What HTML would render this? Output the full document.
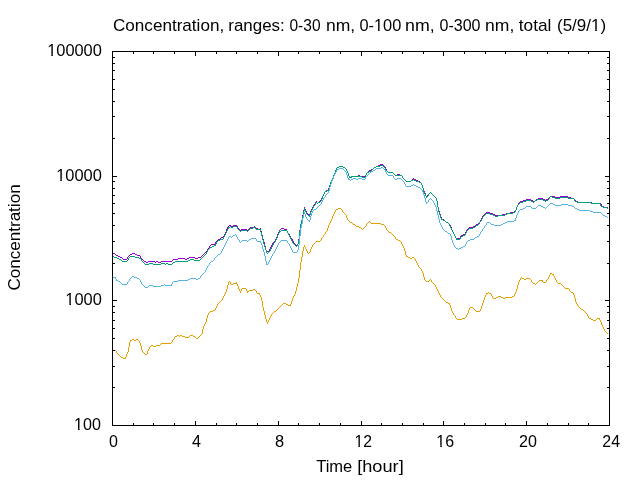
<!DOCTYPE html>
<html><head><meta charset="utf-8"><title>Concentration</title>
<style>
html,body{margin:0;padding:0;background:#fff;overflow:hidden}
svg{display:block;will-change:transform}
text{font-family:"Liberation Sans",sans-serif;font-size:16px;fill:#000}
</style></head><body>
<svg width="640" height="480" viewBox="0 0 640 480">
<rect width="640" height="480" fill="#fff"/>
<g shape-rendering="crispEdges">
<path d="M380 164h3v1h-3zM378 165h2v1h-2zM383 165h1v1h-1zM339 166h4v1h-4zM376 166h2v1h-2zM384 166h1v1h-1zM337 167h2v1h-2zM343 167h2v1h-2zM374 167h2v1h-2zM385 167h1v1h-1zM336 168h1v1h-1zM345 168h1v1h-1zM373 168h1v1h-1zM385 168h1v1h-1zM336 169h1v1h-1zM346 169h1v1h-1zM371 169h2v1h-2zM386 169h1v1h-1zM335 170h1v1h-1zM346 170h1v1h-1zM369 170h2v1h-2zM386 170h1v1h-1zM335 171h1v1h-1zM347 171h1v1h-1zM368 171h1v1h-1zM387 171h1v1h-1zM335 172h1v1h-1zM347 172h1v1h-1zM367 172h1v1h-1zM388 172h5v1h-5zM334 173h1v1h-1zM348 173h1v1h-1zM366 173h1v1h-1zM393 173h1v1h-1zM334 174h1v1h-1zM348 174h1v1h-1zM366 174h1v1h-1zM394 174h1v1h-1zM397 174h3v1h-3zM333 175h1v1h-1zM348 175h1v1h-1zM358 175h2v1h-2zM365 175h1v1h-1zM395 175h2v1h-2zM400 175h2v1h-2zM333 176h1v1h-1zM349 176h1v1h-1zM351 176h15v1h-15zM402 176h1v1h-1zM333 177h1v1h-1zM349 177h3v1h-3zM362 177h3v1h-3zM402 177h1v1h-1zM332 178h1v1h-1zM403 178h1v1h-1zM413 178h1v1h-1zM332 179h1v1h-1zM404 179h1v1h-1zM412 179h1v1h-1zM414 179h2v1h-2zM331 180h1v1h-1zM405 180h1v1h-1zM411 180h1v1h-1zM416 180h2v1h-2zM331 181h1v1h-1zM406 181h5v1h-5zM418 181h2v1h-2zM330 182h1v1h-1zM420 182h1v1h-1zM330 183h1v1h-1zM421 183h1v1h-1zM330 184h1v1h-1zM421 184h1v1h-1zM329 185h1v1h-1zM422 185h1v1h-1zM329 186h1v1h-1zM422 186h1v1h-1zM329 187h1v1h-1zM422 187h1v1h-1zM328 188h1v1h-1zM423 188h1v1h-1zM328 189h1v1h-1zM423 189h1v1h-1zM326 190h2v1h-2zM423 190h1v1h-1zM325 191h1v1h-1zM424 191h1v1h-1zM324 192h1v1h-1zM424 192h1v1h-1zM430 192h1v1h-1zM324 193h1v1h-1zM425 193h1v1h-1zM429 193h1v1h-1zM431 193h1v1h-1zM323 194h1v1h-1zM425 194h1v1h-1zM428 194h1v1h-1zM432 194h1v1h-1zM323 195h1v1h-1zM425 195h1v1h-1zM427 195h1v1h-1zM433 195h1v1h-1zM322 196h1v1h-1zM426 196h1v1h-1zM434 196h1v1h-1zM550 196h5v1h-5zM560 196h8v1h-8zM322 197h1v1h-1zM435 197h1v1h-1zM549 197h1v1h-1zM555 197h5v1h-5zM568 197h3v1h-3zM321 198h1v1h-1zM436 198h1v1h-1zM538 198h5v1h-5zM548 198h1v1h-1zM571 198h3v1h-3zM321 199h1v1h-1zM436 199h1v1h-1zM526 199h5v1h-5zM536 199h2v1h-2zM543 199h2v1h-2zM546 199h2v1h-2zM574 199h1v1h-1zM320 200h1v1h-1zM436 200h1v1h-1zM523 200h3v1h-3zM531 200h2v1h-2zM535 200h1v1h-1zM545 200h1v1h-1zM575 200h1v1h-1zM316 201h1v1h-1zM319 201h1v1h-1zM437 201h1v1h-1zM520 201h3v1h-3zM533 201h2v1h-2zM576 201h2v1h-2zM315 202h2v1h-2zM318 202h1v1h-1zM437 202h1v1h-1zM519 202h1v1h-1zM578 202h14v1h-14zM315 203h1v1h-1zM317 203h1v1h-1zM437 203h1v1h-1zM518 203h1v1h-1zM592 203h9v1h-9zM314 204h1v1h-1zM437 204h1v1h-1zM518 204h1v1h-1zM601 204h1v1h-1zM313 205h1v1h-1zM437 205h1v1h-1zM517 205h1v1h-1zM601 205h1v1h-1zM313 206h1v1h-1zM437 206h1v1h-1zM517 206h1v1h-1zM602 206h2v1h-2zM304 207h1v1h-1zM312 207h1v1h-1zM438 207h1v1h-1zM516 207h1v1h-1zM604 207h4v1h-4zM304 208h1v1h-1zM312 208h1v1h-1zM438 208h1v1h-1zM516 208h1v1h-1zM607 208h1v1h-1zM304 209h2v1h-2zM311 209h1v1h-1zM438 209h1v1h-1zM516 209h1v1h-1zM303 210h1v1h-1zM305 210h1v1h-1zM311 210h1v1h-1zM438 210h1v1h-1zM515 210h1v1h-1zM303 211h1v1h-1zM306 211h1v1h-1zM310 211h1v1h-1zM439 211h1v1h-1zM514 211h2v1h-2zM303 212h1v1h-1zM306 212h1v1h-1zM310 212h1v1h-1zM439 212h1v1h-1zM486 212h4v1h-4zM510 212h4v1h-4zM303 213h1v1h-1zM307 213h1v1h-1zM310 213h1v1h-1zM439 213h1v1h-1zM485 213h1v1h-1zM490 213h3v1h-3zM506 213h4v1h-4zM303 214h1v1h-1zM308 214h2v1h-2zM440 214h1v1h-1zM484 214h1v1h-1zM493 214h2v1h-2zM502 214h4v1h-4zM302 215h1v1h-1zM308 215h2v1h-2zM440 215h1v1h-1zM483 215h1v1h-1zM495 215h7v1h-7zM302 216h1v1h-1zM309 216h1v1h-1zM440 216h1v1h-1zM482 216h1v1h-1zM302 217h1v1h-1zM441 217h1v1h-1zM482 217h1v1h-1zM302 218h1v1h-1zM441 218h1v1h-1zM481 218h1v1h-1zM302 219h1v1h-1zM442 219h2v1h-2zM481 219h1v1h-1zM301 220h1v1h-1zM444 220h1v1h-1zM480 220h1v1h-1zM301 221h1v1h-1zM445 221h1v1h-1zM480 221h1v1h-1zM301 222h1v1h-1zM446 222h2v1h-2zM479 222h1v1h-1zM301 223h1v1h-1zM448 223h1v1h-1zM478 223h1v1h-1zM300 224h1v1h-1zM449 224h1v1h-1zM476 224h2v1h-2zM229 225h2v1h-2zM233 225h4v1h-4zM300 225h1v1h-1zM450 225h1v1h-1zM475 225h1v1h-1zM228 226h1v1h-1zM231 226h2v1h-2zM237 226h1v1h-1zM254 226h1v1h-1zM300 226h1v1h-1zM450 226h1v1h-1zM473 226h2v1h-2zM227 227h1v1h-1zM237 227h1v1h-1zM250 227h4v1h-4zM255 227h1v1h-1zM300 227h1v1h-1zM451 227h1v1h-1zM469 227h4v1h-4zM227 228h1v1h-1zM238 228h1v1h-1zM249 228h1v1h-1zM256 228h2v1h-2zM260 228h1v1h-1zM281 228h3v1h-3zM300 228h1v1h-1zM451 228h1v1h-1zM468 228h1v1h-1zM226 229h1v1h-1zM239 229h1v1h-1zM241 229h6v1h-6zM248 229h1v1h-1zM258 229h3v1h-3zM280 229h1v1h-1zM284 229h3v1h-3zM300 229h1v1h-1zM451 229h1v1h-1zM467 229h1v1h-1zM226 230h1v1h-1zM240 230h1v1h-1zM247 230h1v1h-1zM260 230h1v1h-1zM279 230h1v1h-1zM286 230h1v1h-1zM299 230h1v1h-1zM452 230h1v1h-1zM466 230h1v1h-1zM226 231h1v1h-1zM261 231h1v1h-1zM279 231h1v1h-1zM287 231h1v1h-1zM299 231h1v1h-1zM452 231h1v1h-1zM466 231h1v1h-1zM225 232h1v1h-1zM261 232h1v1h-1zM278 232h1v1h-1zM287 232h1v1h-1zM299 232h1v1h-1zM453 232h1v1h-1zM465 232h1v1h-1zM225 233h1v1h-1zM261 233h1v1h-1zM278 233h1v1h-1zM288 233h1v1h-1zM299 233h1v1h-1zM453 233h1v1h-1zM465 233h1v1h-1zM224 234h1v1h-1zM261 234h1v1h-1zM277 234h1v1h-1zM289 234h1v1h-1zM299 234h1v1h-1zM454 234h1v1h-1zM463 234h2v1h-2zM224 235h1v1h-1zM262 235h1v1h-1zM277 235h1v1h-1zM289 235h1v1h-1zM299 235h1v1h-1zM454 235h1v1h-1zM461 235h2v1h-2zM223 236h1v1h-1zM262 236h1v1h-1zM277 236h1v1h-1zM290 236h1v1h-1zM299 236h1v1h-1zM455 236h1v1h-1zM460 236h1v1h-1zM221 237h2v1h-2zM262 237h1v1h-1zM276 237h1v1h-1zM290 237h1v1h-1zM299 237h1v1h-1zM455 237h1v1h-1zM460 237h1v1h-1zM220 238h1v1h-1zM262 238h1v1h-1zM276 238h1v1h-1zM291 238h1v1h-1zM299 238h1v1h-1zM456 238h4v1h-4zM218 239h2v1h-2zM263 239h1v1h-1zM275 239h1v1h-1zM292 239h1v1h-1zM298 239h1v1h-1zM217 240h1v1h-1zM263 240h1v1h-1zM275 240h1v1h-1zM292 240h1v1h-1zM298 240h1v1h-1zM216 241h1v1h-1zM263 241h1v1h-1zM274 241h1v1h-1zM293 241h1v1h-1zM298 241h1v1h-1zM215 242h1v1h-1zM264 242h1v1h-1zM273 242h1v1h-1zM293 242h1v1h-1zM298 242h1v1h-1zM215 243h1v1h-1zM264 243h1v1h-1zM272 243h1v1h-1zM294 243h1v1h-1zM298 243h1v1h-1zM211 244h4v1h-4zM264 244h1v1h-1zM272 244h1v1h-1zM295 244h1v1h-1zM297 244h1v1h-1zM210 245h1v1h-1zM264 245h1v1h-1zM271 245h1v1h-1zM296 245h1v1h-1zM209 246h1v1h-1zM265 246h1v1h-1zM271 246h1v1h-1zM209 247h1v1h-1zM265 247h1v1h-1zM270 247h1v1h-1zM208 248h1v1h-1zM265 248h1v1h-1zM270 248h1v1h-1zM207 249h1v1h-1zM265 249h1v1h-1zM269 249h1v1h-1zM207 250h1v1h-1zM266 250h1v1h-1zM269 250h1v1h-1zM206 251h1v1h-1zM266 251h3v1h-3zM205 252h1v1h-1zM112 253h3v1h-3zM132 253h3v1h-3zM204 253h1v1h-1zM115 254h1v1h-1zM130 254h2v1h-2zM135 254h2v1h-2zM203 254h1v1h-1zM116 255h2v1h-2zM129 255h1v1h-1zM137 255h3v1h-3zM202 255h1v1h-1zM118 256h2v1h-2zM128 256h1v1h-1zM140 256h1v1h-1zM201 256h1v1h-1zM120 257h2v1h-2zM127 257h1v1h-1zM140 257h1v1h-1zM189 257h6v1h-6zM198 257h3v1h-3zM122 258h1v1h-1zM127 258h1v1h-1zM141 258h1v1h-1zM178 258h7v1h-7zM187 258h2v1h-2zM195 258h3v1h-3zM123 259h4v1h-4zM142 259h1v1h-1zM173 259h5v1h-5zM185 259h2v1h-2zM143 260h1v1h-1zM172 260h1v1h-1zM144 261h2v1h-2zM148 261h7v1h-7zM156 261h2v1h-2zM161 261h11v1h-11zM146 262h2v1h-2zM155 262h1v1h-1zM158 262h3v1h-3z" fill="#9400d3"/>
<path d="M380 165h3v1h-3zM339 166h4v1h-4zM376 166h4v1h-4zM383 166h1v1h-1zM337 167h2v1h-2zM343 167h2v1h-2zM374 167h2v1h-2zM384 167h1v1h-1zM336 168h1v1h-1zM345 168h1v1h-1zM373 168h1v1h-1zM385 168h1v1h-1zM336 169h1v1h-1zM346 169h1v1h-1zM372 169h1v1h-1zM385 169h1v1h-1zM335 170h1v1h-1zM346 170h1v1h-1zM371 170h1v1h-1zM386 170h1v1h-1zM335 171h1v1h-1zM347 171h1v1h-1zM369 171h2v1h-2zM387 171h1v1h-1zM335 172h1v1h-1zM347 172h1v1h-1zM367 172h2v1h-2zM388 172h5v1h-5zM334 173h1v1h-1zM348 173h1v1h-1zM366 173h1v1h-1zM393 173h1v1h-1zM334 174h1v1h-1zM348 174h1v1h-1zM366 174h1v1h-1zM394 174h1v1h-1zM333 175h1v1h-1zM348 175h1v1h-1zM365 175h1v1h-1zM395 175h7v1h-7zM333 176h1v1h-1zM349 176h1v1h-1zM351 176h11v1h-11zM365 176h1v1h-1zM402 176h1v1h-1zM333 177h1v1h-1zM349 177h3v1h-3zM362 177h3v1h-3zM402 177h1v1h-1zM332 178h1v1h-1zM403 178h1v1h-1zM332 179h1v1h-1zM404 179h1v1h-1zM413 179h1v1h-1zM331 180h1v1h-1zM405 180h1v1h-1zM411 180h2v1h-2zM414 180h2v1h-2zM331 181h1v1h-1zM406 181h5v1h-5zM416 181h3v1h-3zM330 182h1v1h-1zM419 182h2v1h-2zM330 183h1v1h-1zM421 183h1v1h-1zM330 184h1v1h-1zM421 184h1v1h-1zM329 185h1v1h-1zM422 185h1v1h-1zM329 186h1v1h-1zM422 186h1v1h-1zM329 187h1v1h-1zM422 187h1v1h-1zM329 188h1v1h-1zM423 188h1v1h-1zM328 189h1v1h-1zM423 189h1v1h-1zM327 190h2v1h-2zM423 190h1v1h-1zM325 191h2v1h-2zM423 191h1v1h-1zM324 192h1v1h-1zM424 192h1v1h-1zM430 192h1v1h-1zM324 193h1v1h-1zM424 193h1v1h-1zM429 193h1v1h-1zM431 193h1v1h-1zM323 194h1v1h-1zM425 194h1v1h-1zM428 194h1v1h-1zM432 194h1v1h-1zM323 195h1v1h-1zM425 195h1v1h-1zM428 195h1v1h-1zM433 195h1v1h-1zM322 196h1v1h-1zM426 196h2v1h-2zM434 196h1v1h-1zM550 196h2v1h-2zM322 197h1v1h-1zM426 197h1v1h-1zM435 197h1v1h-1zM549 197h1v1h-1zM552 197h3v1h-3zM560 197h8v1h-8zM322 198h1v1h-1zM436 198h1v1h-1zM549 198h1v1h-1zM555 198h5v1h-5zM568 198h6v1h-6zM321 199h1v1h-1zM436 199h1v1h-1zM537 199h6v1h-6zM548 199h1v1h-1zM574 199h1v1h-1zM321 200h1v1h-1zM436 200h1v1h-1zM526 200h5v1h-5zM535 200h2v1h-2zM543 200h2v1h-2zM546 200h2v1h-2zM574 200h1v1h-1zM320 201h1v1h-1zM437 201h1v1h-1zM523 201h3v1h-3zM531 201h2v1h-2zM534 201h1v1h-1zM545 201h1v1h-1zM575 201h2v1h-2zM316 202h1v1h-1zM318 202h2v1h-2zM437 202h1v1h-1zM520 202h3v1h-3zM533 202h1v1h-1zM577 202h14v1h-14zM315 203h1v1h-1zM317 203h1v1h-1zM437 203h1v1h-1zM519 203h1v1h-1zM591 203h9v1h-9zM315 204h1v1h-1zM437 204h1v1h-1zM518 204h1v1h-1zM600 204h1v1h-1zM314 205h1v1h-1zM437 205h1v1h-1zM517 205h1v1h-1zM600 205h1v1h-1zM313 206h1v1h-1zM437 206h1v1h-1zM517 206h1v1h-1zM601 206h2v1h-2zM313 207h1v1h-1zM438 207h1v1h-1zM516 207h1v1h-1zM603 207h4v1h-4zM304 208h1v1h-1zM312 208h1v1h-1zM438 208h1v1h-1zM516 208h1v1h-1zM607 208h1v1h-1zM304 209h1v1h-1zM312 209h1v1h-1zM438 209h1v1h-1zM516 209h1v1h-1zM304 210h2v1h-2zM311 210h1v1h-1zM438 210h1v1h-1zM515 210h1v1h-1zM303 211h1v1h-1zM305 211h1v1h-1zM311 211h1v1h-1zM438 211h1v1h-1zM515 211h1v1h-1zM303 212h1v1h-1zM306 212h1v1h-1zM310 212h1v1h-1zM439 212h1v1h-1zM513 212h2v1h-2zM303 213h1v1h-1zM306 213h1v1h-1zM310 213h1v1h-1zM439 213h1v1h-1zM486 213h4v1h-4zM507 213h6v1h-6zM303 214h1v1h-1zM307 214h1v1h-1zM310 214h1v1h-1zM439 214h1v1h-1zM485 214h1v1h-1zM490 214h3v1h-3zM505 214h2v1h-2zM303 215h1v1h-1zM308 215h2v1h-2zM440 215h1v1h-1zM484 215h1v1h-1zM493 215h2v1h-2zM498 215h7v1h-7zM302 216h1v1h-1zM309 216h1v1h-1zM440 216h1v1h-1zM483 216h1v1h-1zM495 216h3v1h-3zM302 217h1v1h-1zM440 217h1v1h-1zM482 217h1v1h-1zM302 218h1v1h-1zM441 218h1v1h-1zM482 218h1v1h-1zM302 219h1v1h-1zM441 219h2v1h-2zM481 219h1v1h-1zM301 220h1v1h-1zM443 220h2v1h-2zM481 220h1v1h-1zM301 221h1v1h-1zM445 221h1v1h-1zM480 221h1v1h-1zM301 222h1v1h-1zM446 222h2v1h-2zM479 222h1v1h-1zM301 223h1v1h-1zM448 223h1v1h-1zM479 223h1v1h-1zM300 224h1v1h-1zM449 224h1v1h-1zM478 224h1v1h-1zM300 225h1v1h-1zM449 225h1v1h-1zM476 225h2v1h-2zM230 226h1v1h-1zM233 226h4v1h-4zM300 226h1v1h-1zM450 226h1v1h-1zM475 226h1v1h-1zM228 227h2v1h-2zM231 227h2v1h-2zM237 227h1v1h-1zM253 227h3v1h-3zM300 227h1v1h-1zM450 227h1v1h-1zM473 227h2v1h-2zM228 228h1v1h-1zM237 228h1v1h-1zM250 228h3v1h-3zM255 228h1v1h-1zM300 228h1v1h-1zM451 228h1v1h-1zM469 228h4v1h-4zM227 229h1v1h-1zM238 229h1v1h-1zM249 229h1v1h-1zM256 229h5v1h-5zM300 229h1v1h-1zM451 229h1v1h-1zM468 229h1v1h-1zM227 230h1v1h-1zM239 230h1v1h-1zM241 230h6v1h-6zM248 230h1v1h-1zM260 230h1v1h-1zM281 230h6v1h-6zM300 230h1v1h-1zM452 230h1v1h-1zM467 230h1v1h-1zM226 231h1v1h-1zM240 231h1v1h-1zM247 231h1v1h-1zM260 231h1v1h-1zM279 231h2v1h-2zM287 231h1v1h-1zM299 231h1v1h-1zM452 231h1v1h-1zM466 231h1v1h-1zM226 232h1v1h-1zM261 232h1v1h-1zM279 232h1v1h-1zM287 232h1v1h-1zM299 232h1v1h-1zM453 232h1v1h-1zM466 232h1v1h-1zM225 233h1v1h-1zM261 233h1v1h-1zM278 233h1v1h-1zM288 233h1v1h-1zM299 233h1v1h-1zM453 233h1v1h-1zM465 233h1v1h-1zM225 234h1v1h-1zM261 234h1v1h-1zM278 234h1v1h-1zM288 234h1v1h-1zM299 234h1v1h-1zM454 234h1v1h-1zM465 234h1v1h-1zM224 235h1v1h-1zM261 235h1v1h-1zM277 235h1v1h-1zM289 235h1v1h-1zM299 235h1v1h-1zM454 235h1v1h-1zM463 235h2v1h-2zM224 236h1v1h-1zM262 236h1v1h-1zM277 236h1v1h-1zM289 236h1v1h-1zM299 236h1v1h-1zM455 236h1v1h-1zM461 236h2v1h-2zM223 237h1v1h-1zM262 237h1v1h-1zM277 237h1v1h-1zM290 237h1v1h-1zM299 237h1v1h-1zM455 237h1v1h-1zM460 237h1v1h-1zM223 238h1v1h-1zM262 238h1v1h-1zM276 238h1v1h-1zM290 238h1v1h-1zM299 238h1v1h-1zM456 238h1v1h-1zM460 238h1v1h-1zM220 239h3v1h-3zM262 239h1v1h-1zM276 239h1v1h-1zM291 239h1v1h-1zM299 239h1v1h-1zM456 239h4v1h-4zM218 240h2v1h-2zM263 240h1v1h-1zM275 240h1v1h-1zM291 240h1v1h-1zM298 240h1v1h-1zM217 241h1v1h-1zM263 241h1v1h-1zM275 241h1v1h-1zM292 241h1v1h-1zM298 241h1v1h-1zM216 242h1v1h-1zM263 242h1v1h-1zM274 242h1v1h-1zM292 242h1v1h-1zM298 242h1v1h-1zM216 243h1v1h-1zM263 243h1v1h-1zM273 243h1v1h-1zM293 243h1v1h-1zM298 243h1v1h-1zM215 244h1v1h-1zM264 244h1v1h-1zM273 244h1v1h-1zM294 244h1v1h-1zM297 244h1v1h-1zM214 245h2v1h-2zM264 245h1v1h-1zM272 245h1v1h-1zM295 245h1v1h-1zM297 245h1v1h-1zM212 246h2v1h-2zM264 246h1v1h-1zM272 246h1v1h-1zM296 246h1v1h-1zM210 247h2v1h-2zM265 247h1v1h-1zM271 247h1v1h-1zM209 248h1v1h-1zM265 248h1v1h-1zM271 248h1v1h-1zM208 249h1v1h-1zM265 249h1v1h-1zM270 249h1v1h-1zM207 250h1v1h-1zM266 250h1v1h-1zM270 250h1v1h-1zM207 251h1v1h-1zM266 251h1v1h-1zM269 251h1v1h-1zM206 252h1v1h-1zM266 252h1v1h-1zM268 252h1v1h-1zM206 253h1v1h-1zM267 253h1v1h-1zM205 254h1v1h-1zM204 255h1v1h-1zM112 256h2v1h-2zM130 256h5v1h-5zM203 256h1v1h-1zM114 257h3v1h-3zM129 257h1v1h-1zM135 257h4v1h-4zM202 257h1v1h-1zM117 258h2v1h-2zM128 258h1v1h-1zM139 258h2v1h-2zM201 258h1v1h-1zM119 259h2v1h-2zM128 259h1v1h-1zM141 259h1v1h-1zM190 259h4v1h-4zM200 259h1v1h-1zM121 260h1v1h-1zM127 260h1v1h-1zM141 260h1v1h-1zM188 260h2v1h-2zM194 260h6v1h-6zM122 261h5v1h-5zM142 261h1v1h-1zM175 261h13v1h-13zM143 262h1v1h-1zM173 262h2v1h-2zM144 263h1v1h-1zM149 263h4v1h-4zM161 263h4v1h-4zM166 263h2v1h-2zM172 263h1v1h-1zM145 264h4v1h-4zM153 264h8v1h-8zM165 264h1v1h-1zM168 264h4v1h-4z" fill="#009e73"/>
<path d="M381 167h2v1h-2zM339 168h4v1h-4zM376 168h5v1h-5zM383 168h1v1h-1zM337 169h2v1h-2zM343 169h1v1h-1zM375 169h1v1h-1zM384 169h1v1h-1zM336 170h1v1h-1zM344 170h1v1h-1zM373 170h2v1h-2zM385 170h1v1h-1zM336 171h1v1h-1zM345 171h1v1h-1zM371 171h2v1h-2zM385 171h1v1h-1zM335 172h1v1h-1zM346 172h1v1h-1zM370 172h1v1h-1zM386 172h1v1h-1zM335 173h1v1h-1zM346 173h1v1h-1zM369 173h1v1h-1zM386 173h1v1h-1zM334 174h1v1h-1zM346 174h1v1h-1zM368 174h1v1h-1zM387 174h1v1h-1zM334 175h1v1h-1zM347 175h1v1h-1zM367 175h1v1h-1zM388 175h5v1h-5zM333 176h1v1h-1zM347 176h1v1h-1zM366 176h1v1h-1zM393 176h1v1h-1zM333 177h1v1h-1zM347 177h1v1h-1zM365 177h1v1h-1zM393 177h1v1h-1zM333 178h1v1h-1zM348 178h1v1h-1zM353 178h3v1h-3zM358 178h4v1h-4zM365 178h1v1h-1zM394 178h1v1h-1zM397 178h4v1h-4zM332 179h1v1h-1zM348 179h2v1h-2zM351 179h2v1h-2zM356 179h2v1h-2zM362 179h3v1h-3zM395 179h2v1h-2zM401 179h1v1h-1zM332 180h1v1h-1zM350 180h1v1h-1zM402 180h1v1h-1zM331 181h1v1h-1zM403 181h1v1h-1zM331 182h1v1h-1zM404 182h1v1h-1zM331 183h1v1h-1zM404 183h1v1h-1zM330 184h1v1h-1zM405 184h1v1h-1zM413 184h1v1h-1zM330 185h1v1h-1zM405 185h1v1h-1zM411 185h2v1h-2zM414 185h2v1h-2zM330 186h1v1h-1zM406 186h5v1h-5zM416 186h2v1h-2zM329 187h1v1h-1zM418 187h2v1h-2zM329 188h1v1h-1zM420 188h1v1h-1zM329 189h1v1h-1zM421 189h1v1h-1zM329 190h1v1h-1zM422 190h1v1h-1zM328 191h1v1h-1zM422 191h1v1h-1zM328 192h1v1h-1zM423 192h1v1h-1zM327 193h1v1h-1zM423 193h1v1h-1zM326 194h1v1h-1zM423 194h1v1h-1zM325 195h1v1h-1zM424 195h1v1h-1zM325 196h1v1h-1zM424 196h1v1h-1zM324 197h1v1h-1zM424 197h1v1h-1zM323 198h1v1h-1zM425 198h1v1h-1zM430 198h1v1h-1zM323 199h1v1h-1zM425 199h1v1h-1zM429 199h1v1h-1zM431 199h1v1h-1zM322 200h1v1h-1zM425 200h1v1h-1zM428 200h1v1h-1zM432 200h1v1h-1zM322 201h1v1h-1zM425 201h1v1h-1zM428 201h1v1h-1zM433 201h1v1h-1zM321 202h1v1h-1zM426 202h2v1h-2zM433 202h1v1h-1zM321 203h1v1h-1zM426 203h1v1h-1zM434 203h1v1h-1zM550 203h3v1h-3zM320 204h1v1h-1zM434 204h1v1h-1zM549 204h1v1h-1zM553 204h2v1h-2zM561 204h7v1h-7zM319 205h1v1h-1zM435 205h1v1h-1zM538 205h3v1h-3zM548 205h1v1h-1zM555 205h6v1h-6zM568 205h4v1h-4zM318 206h1v1h-1zM435 206h1v1h-1zM526 206h5v1h-5zM537 206h1v1h-1zM541 206h2v1h-2zM547 206h1v1h-1zM572 206h2v1h-2zM317 207h1v1h-1zM436 207h1v1h-1zM525 207h1v1h-1zM531 207h1v1h-1zM536 207h1v1h-1zM543 207h2v1h-2zM546 207h1v1h-1zM574 207h1v1h-1zM316 208h1v1h-1zM436 208h1v1h-1zM523 208h2v1h-2zM532 208h4v1h-4zM545 208h1v1h-1zM575 208h2v1h-2zM314 209h2v1h-2zM436 209h1v1h-1zM520 209h3v1h-3zM577 209h2v1h-2zM313 210h1v1h-1zM436 210h1v1h-1zM519 210h1v1h-1zM579 210h11v1h-11zM312 211h1v1h-1zM437 211h1v1h-1zM518 211h1v1h-1zM590 211h3v1h-3zM304 212h1v1h-1zM312 212h1v1h-1zM437 212h1v1h-1zM518 212h1v1h-1zM593 212h8v1h-8zM304 213h1v1h-1zM311 213h1v1h-1zM437 213h1v1h-1zM517 213h1v1h-1zM601 213h1v1h-1zM303 214h1v1h-1zM305 214h1v1h-1zM311 214h1v1h-1zM437 214h1v1h-1zM517 214h1v1h-1zM602 214h1v1h-1zM303 215h1v1h-1zM305 215h1v1h-1zM311 215h1v1h-1zM438 215h1v1h-1zM516 215h1v1h-1zM603 215h2v1h-2zM303 216h1v1h-1zM305 216h1v1h-1zM310 216h1v1h-1zM438 216h1v1h-1zM516 216h1v1h-1zM605 216h2v1h-2zM303 217h1v1h-1zM306 217h1v1h-1zM310 217h1v1h-1zM438 217h1v1h-1zM516 217h1v1h-1zM607 217h1v1h-1zM302 218h1v1h-1zM306 218h1v1h-1zM310 218h1v1h-1zM438 218h1v1h-1zM515 218h1v1h-1zM302 219h1v1h-1zM307 219h1v1h-1zM310 219h1v1h-1zM439 219h1v1h-1zM515 219h1v1h-1zM302 220h1v1h-1zM308 220h2v1h-2zM439 220h1v1h-1zM514 220h2v1h-2zM302 221h1v1h-1zM309 221h1v1h-1zM439 221h1v1h-1zM507 221h7v1h-7zM302 222h1v1h-1zM439 222h1v1h-1zM487 222h3v1h-3zM505 222h2v1h-2zM302 223h1v1h-1zM440 223h1v1h-1zM486 223h1v1h-1zM490 223h1v1h-1zM503 223h2v1h-2zM301 224h1v1h-1zM440 224h1v1h-1zM486 224h1v1h-1zM491 224h3v1h-3zM501 224h2v1h-2zM301 225h1v1h-1zM441 225h1v1h-1zM485 225h1v1h-1zM494 225h7v1h-7zM301 226h1v1h-1zM441 226h1v1h-1zM484 226h1v1h-1zM301 227h1v1h-1zM442 227h1v1h-1zM484 227h1v1h-1zM300 228h1v1h-1zM442 228h1v1h-1zM483 228h1v1h-1zM300 229h1v1h-1zM443 229h1v1h-1zM482 229h1v1h-1zM300 230h1v1h-1zM444 230h1v1h-1zM482 230h1v1h-1zM300 231h1v1h-1zM445 231h2v1h-2zM481 231h1v1h-1zM300 232h1v1h-1zM447 232h1v1h-1zM480 232h1v1h-1zM300 233h1v1h-1zM448 233h2v1h-2zM480 233h1v1h-1zM235 234h1v1h-1zM300 234h1v1h-1zM450 234h1v1h-1zM479 234h1v1h-1zM233 235h2v1h-2zM236 235h1v1h-1zM300 235h1v1h-1zM450 235h1v1h-1zM479 235h1v1h-1zM229 236h2v1h-2zM232 236h1v1h-1zM236 236h1v1h-1zM299 236h1v1h-1zM451 236h1v1h-1zM477 236h2v1h-2zM228 237h1v1h-1zM231 237h1v1h-1zM237 237h1v1h-1zM299 237h1v1h-1zM451 237h1v1h-1zM475 237h2v1h-2zM228 238h1v1h-1zM237 238h1v1h-1zM251 238h5v1h-5zM299 238h1v1h-1zM451 238h1v1h-1zM474 238h1v1h-1zM227 239h1v1h-1zM238 239h1v1h-1zM249 239h2v1h-2zM256 239h1v1h-1zM299 239h1v1h-1zM451 239h1v1h-1zM470 239h4v1h-4zM227 240h1v1h-1zM239 240h1v1h-1zM242 240h5v1h-5zM248 240h1v1h-1zM256 240h1v1h-1zM281 240h6v1h-6zM299 240h1v1h-1zM452 240h1v1h-1zM468 240h2v1h-2zM226 241h1v1h-1zM239 241h1v1h-1zM241 241h1v1h-1zM247 241h1v1h-1zM257 241h4v1h-4zM280 241h1v1h-1zM287 241h1v1h-1zM299 241h1v1h-1zM452 241h1v1h-1zM467 241h1v1h-1zM226 242h1v1h-1zM240 242h1v1h-1zM260 242h1v1h-1zM279 242h1v1h-1zM287 242h1v1h-1zM299 242h1v1h-1zM452 242h1v1h-1zM466 242h1v1h-1zM225 243h1v1h-1zM261 243h1v1h-1zM278 243h1v1h-1zM288 243h1v1h-1zM299 243h1v1h-1zM453 243h1v1h-1zM466 243h1v1h-1zM225 244h1v1h-1zM261 244h1v1h-1zM278 244h1v1h-1zM289 244h1v1h-1zM299 244h1v1h-1zM453 244h1v1h-1zM465 244h1v1h-1zM224 245h1v1h-1zM262 245h1v1h-1zM277 245h1v1h-1zM289 245h1v1h-1zM298 245h1v1h-1zM454 245h1v1h-1zM465 245h1v1h-1zM224 246h1v1h-1zM262 246h1v1h-1zM277 246h1v1h-1zM290 246h1v1h-1zM298 246h1v1h-1zM454 246h1v1h-1zM463 246h2v1h-2zM223 247h1v1h-1zM262 247h1v1h-1zM276 247h1v1h-1zM290 247h1v1h-1zM298 247h1v1h-1zM455 247h1v1h-1zM461 247h2v1h-2zM223 248h1v1h-1zM262 248h1v1h-1zM276 248h1v1h-1zM291 248h1v1h-1zM298 248h1v1h-1zM456 248h2v1h-2zM459 248h2v1h-2zM222 249h1v1h-1zM263 249h1v1h-1zM275 249h1v1h-1zM291 249h1v1h-1zM298 249h1v1h-1zM458 249h1v1h-1zM222 250h1v1h-1zM263 250h1v1h-1zM275 250h1v1h-1zM292 250h1v1h-1zM297 250h1v1h-1zM221 251h1v1h-1zM263 251h1v1h-1zM274 251h1v1h-1zM292 251h1v1h-1zM297 251h1v1h-1zM221 252h1v1h-1zM264 252h1v1h-1zM274 252h1v1h-1zM293 252h4v1h-4zM220 253h1v1h-1zM264 253h1v1h-1zM273 253h1v1h-1zM218 254h2v1h-2zM264 254h1v1h-1zM272 254h1v1h-1zM217 255h1v1h-1zM264 255h1v1h-1zM272 255h1v1h-1zM216 256h1v1h-1zM265 256h1v1h-1zM271 256h1v1h-1zM215 257h1v1h-1zM265 257h1v1h-1zM271 257h1v1h-1zM214 258h1v1h-1zM265 258h1v1h-1zM270 258h1v1h-1zM214 259h1v1h-1zM265 259h1v1h-1zM270 259h1v1h-1zM213 260h1v1h-1zM265 260h1v1h-1zM269 260h1v1h-1zM211 261h2v1h-2zM266 261h1v1h-1zM269 261h1v1h-1zM210 262h1v1h-1zM266 262h1v1h-1zM268 262h1v1h-1zM209 263h1v1h-1zM266 263h1v1h-1zM268 263h1v1h-1zM209 264h1v1h-1zM266 264h2v1h-2zM208 265h1v1h-1zM207 266h1v1h-1zM207 267h1v1h-1zM206 268h1v1h-1zM206 269h1v1h-1zM205 270h1v1h-1zM205 271h1v1h-1zM204 272h1v1h-1zM203 273h1v1h-1zM202 274h1v1h-1zM201 275h1v1h-1zM132 276h2v1h-2zM200 276h1v1h-1zM112 277h4v1h-4zM131 277h1v1h-1zM134 277h3v1h-3zM200 277h1v1h-1zM115 278h1v1h-1zM130 278h1v1h-1zM137 278h2v1h-2zM190 278h6v1h-6zM198 278h2v1h-2zM116 279h1v1h-1zM129 279h1v1h-1zM139 279h1v1h-1zM188 279h2v1h-2zM196 279h2v1h-2zM116 280h2v1h-2zM129 280h1v1h-1zM140 280h1v1h-1zM178 280h10v1h-10zM118 281h2v1h-2zM128 281h1v1h-1zM140 281h1v1h-1zM173 281h5v1h-5zM120 282h1v1h-1zM127 282h1v1h-1zM141 282h1v1h-1zM172 282h1v1h-1zM121 283h1v1h-1zM127 283h1v1h-1zM141 283h1v1h-1zM172 283h1v1h-1zM122 284h5v1h-5zM142 284h1v1h-1zM164 284h1v1h-1zM171 284h1v1h-1zM143 285h1v1h-1zM149 285h4v1h-4zM161 285h3v1h-3zM165 285h7v1h-7zM144 286h1v1h-1zM148 286h1v1h-1zM153 286h8v1h-8zM145 287h3v1h-3z" fill="#56b4e9"/>
<path d="M338 208h3v1h-3zM336 209h2v1h-2zM341 209h1v1h-1zM335 210h1v1h-1zM342 210h1v1h-1zM335 211h1v1h-1zM342 211h1v1h-1zM334 212h1v1h-1zM343 212h1v1h-1zM334 213h1v1h-1zM344 213h1v1h-1zM333 214h1v1h-1zM345 214h1v1h-1zM333 215h1v1h-1zM346 215h1v1h-1zM332 216h1v1h-1zM346 216h1v1h-1zM332 217h1v1h-1zM346 217h1v1h-1zM332 218h1v1h-1zM347 218h1v1h-1zM331 219h1v1h-1zM347 219h1v1h-1zM331 220h1v1h-1zM348 220h1v1h-1zM330 221h1v1h-1zM349 221h1v1h-1zM369 221h1v1h-1zM330 222h1v1h-1zM350 222h2v1h-2zM368 222h1v1h-1zM370 222h1v1h-1zM329 223h1v1h-1zM352 223h1v1h-1zM367 223h1v1h-1zM371 223h10v1h-10zM329 224h1v1h-1zM353 224h2v1h-2zM366 224h1v1h-1zM381 224h3v1h-3zM328 225h1v1h-1zM355 225h1v1h-1zM366 225h1v1h-1zM384 225h1v1h-1zM328 226h1v1h-1zM356 226h3v1h-3zM365 226h1v1h-1zM385 226h1v1h-1zM328 227h1v1h-1zM359 227h2v1h-2zM364 227h1v1h-1zM385 227h1v1h-1zM327 228h1v1h-1zM361 228h1v1h-1zM363 228h1v1h-1zM386 228h1v1h-1zM327 229h1v1h-1zM362 229h1v1h-1zM386 229h1v1h-1zM327 230h1v1h-1zM387 230h1v1h-1zM326 231h1v1h-1zM388 231h1v1h-1zM325 232h1v1h-1zM389 232h2v1h-2zM325 233h1v1h-1zM391 233h1v1h-1zM324 234h1v1h-1zM392 234h1v1h-1zM323 235h1v1h-1zM393 235h1v1h-1zM323 236h1v1h-1zM394 236h1v1h-1zM322 237h1v1h-1zM395 237h1v1h-1zM321 238h1v1h-1zM395 238h1v1h-1zM321 239h1v1h-1zM396 239h2v1h-2zM320 240h1v1h-1zM398 240h2v1h-2zM316 241h4v1h-4zM400 241h1v1h-1zM315 242h1v1h-1zM401 242h1v1h-1zM314 243h1v1h-1zM401 243h1v1h-1zM313 244h1v1h-1zM402 244h1v1h-1zM304 245h1v1h-1zM312 245h1v1h-1zM402 245h1v1h-1zM304 246h1v1h-1zM312 246h1v1h-1zM403 246h1v1h-1zM303 247h1v1h-1zM305 247h1v1h-1zM311 247h1v1h-1zM403 247h1v1h-1zM303 248h1v1h-1zM305 248h1v1h-1zM311 248h1v1h-1zM404 248h1v1h-1zM303 249h1v1h-1zM306 249h1v1h-1zM310 249h1v1h-1zM404 249h1v1h-1zM303 250h1v1h-1zM306 250h1v1h-1zM310 250h1v1h-1zM404 250h1v1h-1zM302 251h1v1h-1zM307 251h1v1h-1zM310 251h1v1h-1zM405 251h1v1h-1zM302 252h1v1h-1zM307 252h1v1h-1zM309 252h1v1h-1zM405 252h1v1h-1zM302 253h1v1h-1zM308 253h1v1h-1zM405 253h1v1h-1zM302 254h1v1h-1zM405 254h1v1h-1zM302 255h1v1h-1zM406 255h1v1h-1zM302 256h1v1h-1zM406 256h2v1h-2zM301 257h1v1h-1zM408 257h2v1h-2zM412 257h2v1h-2zM301 258h1v1h-1zM410 258h2v1h-2zM414 258h1v1h-1zM301 259h1v1h-1zM415 259h1v1h-1zM301 260h1v1h-1zM415 260h1v1h-1zM301 261h1v1h-1zM416 261h1v1h-1zM300 262h1v1h-1zM416 262h1v1h-1zM300 263h1v1h-1zM417 263h1v1h-1zM300 264h1v1h-1zM417 264h1v1h-1zM300 265h1v1h-1zM418 265h1v1h-1zM300 266h1v1h-1zM418 266h1v1h-1zM300 267h1v1h-1zM419 267h1v1h-1zM300 268h1v1h-1zM420 268h1v1h-1zM300 269h1v1h-1zM421 269h1v1h-1zM299 270h1v1h-1zM421 270h1v1h-1zM299 271h1v1h-1zM422 271h1v1h-1zM299 272h1v1h-1zM422 272h1v1h-1zM299 273h1v1h-1zM423 273h1v1h-1zM550 273h2v1h-2zM299 274h1v1h-1zM423 274h1v1h-1zM550 274h1v1h-1zM552 274h2v1h-2zM299 275h1v1h-1zM423 275h1v1h-1zM549 275h1v1h-1zM553 275h1v1h-1zM299 276h1v1h-1zM423 276h1v1h-1zM549 276h1v1h-1zM554 276h1v1h-1zM299 277h1v1h-1zM424 277h1v1h-1zM521 277h1v1h-1zM548 277h1v1h-1zM554 277h1v1h-1zM298 278h1v1h-1zM424 278h1v1h-1zM520 278h1v1h-1zM522 278h2v1h-2zM526 278h4v1h-4zM548 278h1v1h-1zM555 278h1v1h-1zM298 279h1v1h-1zM424 279h1v1h-1zM430 279h1v1h-1zM520 279h1v1h-1zM524 279h2v1h-2zM530 279h1v1h-1zM547 279h1v1h-1zM555 279h1v1h-1zM298 280h1v1h-1zM425 280h1v1h-1zM429 280h1v1h-1zM431 280h1v1h-1zM519 280h1v1h-1zM531 280h1v1h-1zM539 280h4v1h-4zM546 280h1v1h-1zM556 280h1v1h-1zM229 281h1v1h-1zM298 281h1v1h-1zM426 281h3v1h-3zM431 281h1v1h-1zM519 281h1v1h-1zM531 281h1v1h-1zM538 281h1v1h-1zM542 281h1v1h-1zM546 281h1v1h-1zM556 281h1v1h-1zM228 282h1v1h-1zM230 282h1v1h-1zM236 282h1v1h-1zM298 282h1v1h-1zM432 282h1v1h-1zM518 282h1v1h-1zM532 282h1v1h-1zM537 282h1v1h-1zM543 282h3v1h-3zM557 282h1v1h-1zM228 283h1v1h-1zM230 283h1v1h-1zM233 283h4v1h-4zM297 283h1v1h-1zM433 283h1v1h-1zM518 283h1v1h-1zM533 283h2v1h-2zM536 283h1v1h-1zM558 283h3v1h-3zM228 284h1v1h-1zM231 284h2v1h-2zM237 284h1v1h-1zM297 284h1v1h-1zM434 284h1v1h-1zM518 284h1v1h-1zM535 284h1v1h-1zM561 284h1v1h-1zM227 285h1v1h-1zM237 285h1v1h-1zM297 285h1v1h-1zM435 285h1v1h-1zM517 285h1v1h-1zM562 285h1v1h-1zM227 286h1v1h-1zM238 286h1v1h-1zM297 286h1v1h-1zM435 286h1v1h-1zM517 286h1v1h-1zM563 286h1v1h-1zM227 287h1v1h-1zM238 287h1v1h-1zM296 287h1v1h-1zM436 287h1v1h-1zM517 287h1v1h-1zM564 287h1v1h-1zM227 288h1v1h-1zM238 288h1v1h-1zM242 288h4v1h-4zM296 288h1v1h-1zM436 288h1v1h-1zM517 288h1v1h-1zM565 288h4v1h-4zM226 289h1v1h-1zM239 289h1v1h-1zM241 289h1v1h-1zM246 289h1v1h-1zM253 289h2v1h-2zM296 289h1v1h-1zM437 289h1v1h-1zM516 289h1v1h-1zM569 289h1v1h-1zM226 290h1v1h-1zM239 290h1v1h-1zM241 290h1v1h-1zM246 290h1v1h-1zM249 290h4v1h-4zM255 290h1v1h-1zM296 290h1v1h-1zM437 290h1v1h-1zM516 290h1v1h-1zM569 290h1v1h-1zM226 291h1v1h-1zM240 291h1v1h-1zM247 291h2v1h-2zM256 291h1v1h-1zM295 291h1v1h-1zM438 291h1v1h-1zM516 291h1v1h-1zM570 291h1v1h-1zM225 292h1v1h-1zM240 292h1v1h-1zM247 292h1v1h-1zM256 292h1v1h-1zM295 292h1v1h-1zM438 292h1v1h-1zM488 292h1v1h-1zM515 292h1v1h-1zM571 292h2v1h-2zM225 293h1v1h-1zM257 293h3v1h-3zM295 293h1v1h-1zM439 293h1v1h-1zM486 293h2v1h-2zM489 293h2v1h-2zM515 293h1v1h-1zM573 293h1v1h-1zM224 294h1v1h-1zM259 294h1v1h-1zM294 294h1v1h-1zM439 294h1v1h-1zM486 294h1v1h-1zM491 294h1v1h-1zM514 294h1v1h-1zM573 294h1v1h-1zM224 295h1v1h-1zM260 295h1v1h-1zM294 295h1v1h-1zM440 295h1v1h-1zM485 295h1v1h-1zM491 295h1v1h-1zM514 295h1v1h-1zM574 295h1v1h-1zM223 296h1v1h-1zM260 296h1v1h-1zM293 296h1v1h-1zM440 296h1v1h-1zM485 296h1v1h-1zM492 296h1v1h-1zM498 296h3v1h-3zM512 296h2v1h-2zM574 296h1v1h-1zM223 297h1v1h-1zM261 297h1v1h-1zM293 297h1v1h-1zM441 297h1v1h-1zM484 297h1v1h-1zM492 297h1v1h-1zM496 297h2v1h-2zM501 297h2v1h-2zM505 297h7v1h-7zM574 297h1v1h-1zM222 298h1v1h-1zM261 298h1v1h-1zM292 298h1v1h-1zM442 298h1v1h-1zM484 298h1v1h-1zM493 298h3v1h-3zM503 298h2v1h-2zM575 298h1v1h-1zM222 299h1v1h-1zM261 299h1v1h-1zM292 299h1v1h-1zM443 299h1v1h-1zM484 299h1v1h-1zM575 299h1v1h-1zM221 300h1v1h-1zM261 300h1v1h-1zM292 300h1v1h-1zM444 300h1v1h-1zM483 300h1v1h-1zM575 300h1v1h-1zM220 301h1v1h-1zM262 301h1v1h-1zM291 301h1v1h-1zM445 301h1v1h-1zM483 301h1v1h-1zM575 301h1v1h-1zM219 302h1v1h-1zM262 302h1v1h-1zM291 302h1v1h-1zM446 302h2v1h-2zM483 302h1v1h-1zM576 302h1v1h-1zM218 303h1v1h-1zM262 303h1v1h-1zM283 303h3v1h-3zM291 303h1v1h-1zM448 303h2v1h-2zM482 303h1v1h-1zM576 303h1v1h-1zM217 304h1v1h-1zM262 304h1v1h-1zM282 304h1v1h-1zM286 304h2v1h-2zM290 304h1v1h-1zM449 304h1v1h-1zM482 304h1v1h-1zM577 304h1v1h-1zM217 305h1v1h-1zM262 305h1v1h-1zM281 305h1v1h-1zM288 305h3v1h-3zM450 305h1v1h-1zM482 305h1v1h-1zM577 305h1v1h-1zM216 306h1v1h-1zM262 306h1v1h-1zM280 306h1v1h-1zM450 306h1v1h-1zM481 306h1v1h-1zM578 306h1v1h-1zM216 307h1v1h-1zM263 307h1v1h-1zM279 307h1v1h-1zM450 307h1v1h-1zM470 307h3v1h-3zM481 307h1v1h-1zM579 307h1v1h-1zM215 308h1v1h-1zM263 308h1v1h-1zM278 308h1v1h-1zM451 308h1v1h-1zM469 308h1v1h-1zM473 308h1v1h-1zM481 308h1v1h-1zM580 308h1v1h-1zM215 309h1v1h-1zM263 309h1v1h-1zM277 309h1v1h-1zM451 309h1v1h-1zM469 309h1v1h-1zM474 309h1v1h-1zM480 309h1v1h-1zM581 309h2v1h-2zM213 310h2v1h-2zM263 310h1v1h-1zM276 310h1v1h-1zM451 310h1v1h-1zM468 310h1v1h-1zM475 310h1v1h-1zM480 310h1v1h-1zM583 310h1v1h-1zM210 311h3v1h-3zM264 311h1v1h-1zM274 311h2v1h-2zM452 311h1v1h-1zM468 311h1v1h-1zM476 311h4v1h-4zM584 311h1v1h-1zM209 312h1v1h-1zM264 312h1v1h-1zM273 312h1v1h-1zM452 312h1v1h-1zM468 312h1v1h-1zM585 312h1v1h-1zM208 313h1v1h-1zM264 313h1v1h-1zM272 313h1v1h-1zM453 313h1v1h-1zM467 313h1v1h-1zM586 313h1v1h-1zM208 314h1v1h-1zM264 314h1v1h-1zM271 314h1v1h-1zM453 314h1v1h-1zM467 314h1v1h-1zM587 314h1v1h-1zM207 315h1v1h-1zM265 315h1v1h-1zM271 315h1v1h-1zM454 315h1v1h-1zM466 315h1v1h-1zM587 315h1v1h-1zM207 316h1v1h-1zM265 316h1v1h-1zM270 316h1v1h-1zM455 316h1v1h-1zM466 316h1v1h-1zM588 316h1v1h-1zM207 317h1v1h-1zM265 317h1v1h-1zM270 317h1v1h-1zM455 317h1v1h-1zM465 317h1v1h-1zM588 317h1v1h-1zM206 318h1v1h-1zM265 318h1v1h-1zM269 318h1v1h-1zM456 318h1v1h-1zM462 318h3v1h-3zM589 318h2v1h-2zM597 318h3v1h-3zM206 319h1v1h-1zM266 319h1v1h-1zM269 319h1v1h-1zM457 319h5v1h-5zM591 319h2v1h-2zM596 319h1v1h-1zM599 319h1v1h-1zM206 320h1v1h-1zM266 320h1v1h-1zM268 320h1v1h-1zM593 320h3v1h-3zM600 320h1v1h-1zM206 321h1v1h-1zM266 321h1v1h-1zM268 321h1v1h-1zM600 321h1v1h-1zM205 322h1v1h-1zM267 322h1v1h-1zM601 322h1v1h-1zM205 323h1v1h-1zM267 323h1v1h-1zM601 323h1v1h-1zM204 324h1v1h-1zM601 324h1v1h-1zM204 325h1v1h-1zM602 325h1v1h-1zM203 326h1v1h-1zM602 326h1v1h-1zM203 327h1v1h-1zM603 327h1v1h-1zM203 328h1v1h-1zM603 328h1v1h-1zM202 329h1v1h-1zM604 329h1v1h-1zM202 330h1v1h-1zM604 330h1v1h-1zM202 331h1v1h-1zM605 331h1v1h-1zM202 332h1v1h-1zM606 332h1v1h-1zM202 333h1v1h-1zM607 333h1v1h-1zM201 334h1v1h-1zM177 335h2v1h-2zM180 335h2v1h-2zM190 335h3v1h-3zM200 335h1v1h-1zM175 336h2v1h-2zM179 336h1v1h-1zM182 336h3v1h-3zM189 336h1v1h-1zM193 336h2v1h-2zM199 336h1v1h-1zM174 337h1v1h-1zM185 337h4v1h-4zM195 337h1v1h-1zM198 337h1v1h-1zM174 338h1v1h-1zM196 338h2v1h-2zM132 339h2v1h-2zM136 339h2v1h-2zM173 339h1v1h-1zM130 340h2v1h-2zM134 340h2v1h-2zM138 340h1v1h-1zM172 340h1v1h-1zM130 341h1v1h-1zM139 341h1v1h-1zM172 341h1v1h-1zM129 342h1v1h-1zM139 342h1v1h-1zM171 342h1v1h-1zM129 343h1v1h-1zM140 343h1v1h-1zM161 343h10v1h-10zM129 344h1v1h-1zM140 344h1v1h-1zM160 344h1v1h-1zM129 345h1v1h-1zM140 345h1v1h-1zM151 345h2v1h-2zM156 345h4v1h-4zM129 346h1v1h-1zM141 346h1v1h-1zM150 346h1v1h-1zM153 346h3v1h-3zM128 347h1v1h-1zM141 347h1v1h-1zM149 347h1v1h-1zM128 348h1v1h-1zM141 348h1v1h-1zM149 348h1v1h-1zM128 349h1v1h-1zM141 349h1v1h-1zM148 349h1v1h-1zM112 350h4v1h-4zM128 350h1v1h-1zM142 350h1v1h-1zM148 350h1v1h-1zM116 351h1v1h-1zM128 351h1v1h-1zM142 351h1v1h-1zM147 351h1v1h-1zM116 352h1v1h-1zM127 352h1v1h-1zM143 352h1v1h-1zM147 352h1v1h-1zM117 353h1v1h-1zM127 353h1v1h-1zM144 353h1v1h-1zM147 353h1v1h-1zM118 354h1v1h-1zM126 354h1v1h-1zM145 354h2v1h-2zM119 355h1v1h-1zM126 355h1v1h-1zM120 356h1v1h-1zM126 356h1v1h-1zM121 357h2v1h-2zM125 357h1v1h-1zM123 358h3v1h-3z" fill="#e69f00"/>
<path d="M112 51h498v1h-498zM112 425h498v1h-498zM112 51h1v375h-1zM609 51h1v375h-1zM112 421h1v5h-1zM112 51h1v5h-1zM133 423h1v3h-1zM133 51h1v3h-1zM153 423h1v3h-1zM153 51h1v3h-1zM174 423h1v3h-1zM174 51h1v3h-1zM195 421h1v5h-1zM195 51h1v5h-1zM216 423h1v3h-1zM216 51h1v3h-1zM236 423h1v3h-1zM236 51h1v3h-1zM257 423h1v3h-1zM257 51h1v3h-1zM278 421h1v5h-1zM278 51h1v5h-1zM298 423h1v3h-1zM298 51h1v3h-1zM319 423h1v3h-1zM319 51h1v3h-1zM340 423h1v3h-1zM340 51h1v3h-1zM361 421h1v5h-1zM361 51h1v5h-1zM381 423h1v3h-1zM381 51h1v3h-1zM402 423h1v3h-1zM402 51h1v3h-1zM423 423h1v3h-1zM423 51h1v3h-1zM443 421h1v5h-1zM443 51h1v5h-1zM464 423h1v3h-1zM464 51h1v3h-1zM485 423h1v3h-1zM485 51h1v3h-1zM505 423h1v3h-1zM505 51h1v3h-1zM526 421h1v5h-1zM526 51h1v5h-1zM547 423h1v3h-1zM547 51h1v3h-1zM568 423h1v3h-1zM568 51h1v3h-1zM588 423h1v3h-1zM588 51h1v3h-1zM609 421h1v5h-1zM609 51h1v5h-1zM112 425h5v1h-5zM605 425h5v1h-5zM112 387h3v1h-3zM607 387h3v1h-3zM112 366h3v1h-3zM607 366h3v1h-3zM112 350h3v1h-3zM607 350h3v1h-3zM112 338h3v1h-3zM607 338h3v1h-3zM112 328h3v1h-3zM607 328h3v1h-3zM112 320h3v1h-3zM607 320h3v1h-3zM112 312h3v1h-3zM607 312h3v1h-3zM112 306h3v1h-3zM607 306h3v1h-3zM112 300h5v1h-5zM605 300h5v1h-5zM112 263h3v1h-3zM607 263h3v1h-3zM112 241h3v1h-3zM607 241h3v1h-3zM112 225h3v1h-3zM607 225h3v1h-3zM112 213h3v1h-3zM607 213h3v1h-3zM112 203h3v1h-3zM607 203h3v1h-3zM112 195h3v1h-3zM607 195h3v1h-3zM112 188h3v1h-3zM607 188h3v1h-3zM112 181h3v1h-3zM607 181h3v1h-3zM112 176h5v1h-5zM605 176h5v1h-5zM112 138h3v1h-3zM607 138h3v1h-3zM112 116h3v1h-3zM607 116h3v1h-3zM112 101h3v1h-3zM607 101h3v1h-3zM112 89h3v1h-3zM607 89h3v1h-3zM112 79h3v1h-3zM607 79h3v1h-3zM112 70h3v1h-3zM607 70h3v1h-3zM112 63h3v1h-3zM607 63h3v1h-3zM112 57h3v1h-3zM607 57h3v1h-3zM112 51h5v1h-5zM605 51h5v1h-5z" fill="#000"/>
</g>
<g>
<g transform="translate(113.014 31) scale(1.0693 1)"><text>Concentration,</text></g>
<g transform="translate(228.26 31) scale(1.0581 1)"><text>ranges:</text></g>
<g transform="translate(289.494 31) scale(0.9691 1)"><text>0-30</text></g>
<g transform="translate(326.019 31) scale(1.0943 1)"><text>nm,</text></g>
<g transform="translate(359.46 31) scale(1.0233 1)"><text>0-100</text><rect x="14.719" y="-2" width="3.45" height="2.4" fill="#fff"/><rect x="19.719" y="-2" width="3.3" height="2.4" fill="#fff"/></g>
<g transform="translate(405.1 31) scale(1.1109 1)"><text>nm,</text></g>
<g transform="translate(439.472 31) scale(1.0044 1)"><text>0-300</text></g>
<g transform="translate(485.119 31) scale(1.0943 1)"><text>nm,</text></g>
<g transform="translate(518.83 31) scale(1.0788 1)"><text>total</text></g>
<g transform="translate(557.039 31) scale(1.061 1)"><text>(5/9/1)</text><rect x="32.516" y="-2" width="3.45" height="2.4" fill="#fff"/><rect x="37.516" y="-2" width="3.3" height="2.4" fill="#fff"/></g>
<g transform="translate(47.168 56) scale(1.0252 1)"><text>100000</text><rect x="0.500" y="-2" width="3.45" height="2.4" fill="#fff"/><rect x="5.500" y="-2" width="3.3" height="2.4" fill="#fff"/></g>
<g transform="translate(56.166 181) scale(1.0276 1)"><text>10000</text><rect x="0.500" y="-2" width="3.45" height="2.4" fill="#fff"/><rect x="5.500" y="-2" width="3.3" height="2.4" fill="#fff"/></g>
<g transform="translate(65.317 305) scale(1.0267 1)"><text>1000</text><rect x="0.500" y="-2" width="3.45" height="2.4" fill="#fff"/><rect x="5.500" y="-2" width="3.3" height="2.4" fill="#fff"/></g>
<g transform="translate(74.094 430) scale(1.005 1)"><text>100</text><rect x="0.500" y="-2" width="3.45" height="2.4" fill="#fff"/><rect x="5.500" y="-2" width="3.3" height="2.4" fill="#fff"/></g>
<g transform="translate(109.123 447) scale(1.0033 1)"><text>0</text></g>
<g transform="translate(192.07 447) scale(1.0125 1)"><text>4</text></g>
<g transform="translate(274.98 447) scale(1.0267 1)"><text>8</text></g>
<g transform="translate(354.52 447) scale(0.9841 1)"><text>12</text><rect x="0.500" y="-2" width="3.45" height="2.4" fill="#fff"/><rect x="5.500" y="-2" width="3.3" height="2.4" fill="#fff"/></g>
<g transform="translate(436.356 447) scale(0.9953 1)"><text>16</text><rect x="0.500" y="-2" width="3.45" height="2.4" fill="#fff"/><rect x="5.500" y="-2" width="3.3" height="2.4" fill="#fff"/></g>
<g transform="translate(518.994 447) scale(1.0076 1)"><text>20</text></g>
<g transform="translate(602.353 447) scale(0.9955 1)"><text>24</text></g>
<g transform="translate(316.163 472) scale(1.0332 1)"><text>Time</text></g>
<g transform="translate(357.17 472) scale(1.1379 1)"><text>[hour]</text></g>
<g transform="translate(20.2 290.584) rotate(-90) scale(1.067 1)"><text>Concentration</text></g>
</g>
</svg>
</body></html>
